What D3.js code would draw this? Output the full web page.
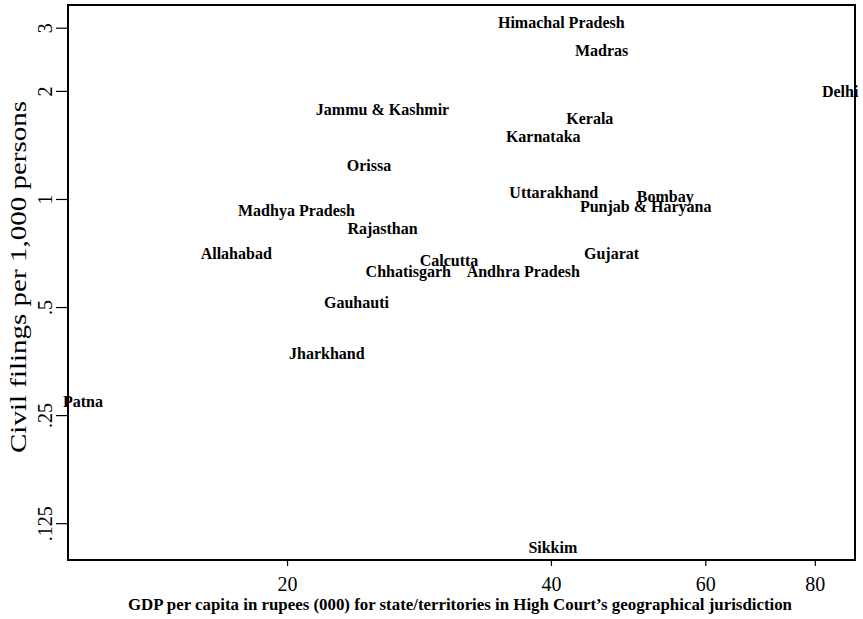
<!DOCTYPE html>
<html>
<head>
<meta charset="utf-8">
<script src="https://cdn.jsdelivr.net/npm/d3@7"></script>
<style>
  body { margin: 0; background: #fff; }
  svg { display: block; }
</style>
</head>
<body>
<div id="chart"></div>
<script>
// High Court jurisdictions, GDP per capita (000 rupees) vs civil filings per 1,000 persons
var courts = ["Himachal Pradesh", "Madras", "Delhi", "Jammu & Kashmir", "Kerala", "Karnataka",
  "Orissa", "Uttarakhand", "Bombay", "Punjab & Haryana", "Madhya Pradesh", "Rajasthan",
  "Allahabad", "Gujarat", "Calcutta", "Chhatisgarh", "Andhra Pradesh", "Gauhauti",
  "Jharkhand", "Patna", "Sikkim"];
var gdp = [41.1, 45.7, 85.5, 25.7, 44.3, 39.2,
  24.8, 40.3, 54.0, 51.3, 20.5, 25.7,
  17.5, 46.9, 30.6, 27.5, 37.2, 24.0,
  22.2, 11.7, 40.2];
var filings = [3.11, 2.60, 1.99, 1.77, 1.68, 1.49,
  1.236, 1.04, 1.013, 0.950, 0.926, 0.830,
  0.707, 0.703, 0.676, 0.626, 0.626, 0.516,
  0.372, 0.273, 0.107];
var xTicks = [20, 40, 60, 80];
var yTicks = [0.125, 0.25, 0.5, 1, 2, 3];
var yTickLabels = [".125", ".25", ".5", "1", "2", "3"];

var width = 863, height = 619;
var margin = {top: 5, right: 8, bottom: 59, left: 68};
var serif = "'Liberation Serif', serif";

var svg = d3.select("#chart").append("svg")
    .attr("width", width)
    .attr("height", height);

// log scales on both axes
var x = d3.scaleLog()
    .domain([11.25, 88.9])
    .range([margin.left, width - margin.right]);
var y = d3.scaleLog()
    .domain([0.0987, 3.47])
    .range([height - margin.bottom, margin.top]);

// x axis
var xAxis = svg.append("g")
    .attr("transform", "translate(0," + (height - margin.bottom) + ")")
    .call(d3.axisBottom(x).tickValues(xTicks).tickFormat(d3.format("d")).tickSize(6).tickPadding(11));
xAxis.select(".domain").remove();
xAxis.selectAll("line").attr("stroke", "#000").attr("stroke-width", 1.2);
xAxis.selectAll("text")
    .style("font-family", serif)
    .style("font-size", "20px")
    .attr("fill", "#000");

// y axis with rotated labels
var yAxis = svg.append("g")
    .attr("transform", "translate(" + margin.left + ",0)")
    .call(d3.axisLeft(y).tickValues(yTicks).tickFormat(function (d, i) { return yTickLabels[i]; }).tickSize(12));
yAxis.select(".domain").remove();
yAxis.selectAll("line").attr("stroke", "#000").attr("stroke-width", 1.2);
yAxis.selectAll("text")
    .attr("x", null).attr("dy", null)
    .attr("transform", "translate(-23,0) rotate(-90)")
    .attr("text-anchor", "middle")
    .attr("dominant-baseline", "central")
    .style("font-family", serif)
    .style("font-size", "20px")
    .attr("fill", "#000");

// labels centred on each point (no markers)
svg.append("g").selectAll("text")
    .data(courts)
    .enter()
    .append("text")
    .attr("x", function (d, i) { return x(gdp[i]); })
    .attr("y", function (d, i) { return y(filings[i]); })
    .attr("text-anchor", "middle")
    .attr("dominant-baseline", "central")
    .style("font-family", serif)
    .style("font-weight", "bold")
    .style("font-size", "16px")
    .text(function (d) { return d; });

// frame drawn over the labels
svg.append("rect")
    .attr("x", margin.left)
    .attr("y", margin.top)
    .attr("width", width - margin.left - margin.right)
    .attr("height", height - margin.top - margin.bottom)
    .attr("fill", "none")
    .attr("stroke", "#000")
    .attr("stroke-width", 2);

// axis titles
svg.append("text")
    .attr("x", 460)
    .attr("y", 610)
    .attr("text-anchor", "middle")
    .attr("textLength", 664)
    .attr("lengthAdjust", "spacingAndGlyphs")
    .style("font-family", serif)
    .style("font-weight", "bold")
    .style("font-size", "17px")
    .text("GDP per capita in rupees (000) for state/territories in High Court\u2019s geographical jurisdiction");

svg.append("text")
    .attr("transform", "translate(18,277) rotate(-90)")
    .attr("text-anchor", "middle")
    .attr("dominant-baseline", "central")
    .attr("textLength", 352)
    .attr("lengthAdjust", "spacingAndGlyphs")
    .style("font-family", serif)
    .style("font-size", "24px")
    .text("Civil filings per 1,000 persons");
</script>
</body>
</html>
